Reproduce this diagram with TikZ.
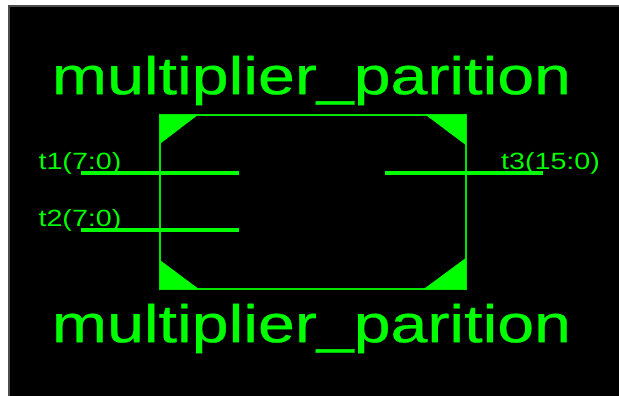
\documentclass[tikz,border=0pt]{standalone}
\usepackage{fontspec}
\setmainfont{Liberation Sans}
\newfontfamily\rtlfont[FakeBold=0.5]{Liberation Sans}
\usepackage{xcolor}
\usetikzlibrary{positioning}
\definecolor{rtlgreen}{RGB}{0,255,0}

\begin{document}
\begin{tikzpicture}[
        x=1pt, y=-1pt,
        rtlbox/.style={rectangle, draw=rtlgreen!90!black, line width=1.4pt, minimum width=306pt, minimum height=174pt, inner sep=0pt, outer sep=0pt},
        titlenode/.style={text=rtlgreen, font=\rtlfont\fontsize{53}{53}\selectfont, xscale=1.25, inner sep=0pt},
        pinlabel/.style={text=rtlgreen, font=\fontsize{23.5}{23.5}\selectfont, xscale=1.22, inner sep=0pt},
        pinline/.style={draw=rtlgreen, line width=3.4pt},
        cornermark/.style={fill=rtlgreen}
    ]
        \useasboundingbox (0,0) rectangle (619,396);
        \fill[white] (0,0) rectangle (619,396);
        \draw[fill=black, draw=black!70, line width=1.5pt] (9,6) rectangle (625,402);

        \node[rtlbox] (box) at (312.8,202) {};
        \node[titlenode] (top) at (311.5,80.5) {multiplier\_parition};
        \node[titlenode] (bottom) at (311.5,328.5) {multiplier\_parition};

        % corners
        \fill[cornermark] (box.north west) -- +(38,0) -- +(0,29) -- cycle;
        \fill[cornermark] (box.north east) -- +(-40,0) -- +(0,30) -- cycle;
        \fill[cornermark] (box.south west) -- +(39,0) -- +(0,-29) -- cycle;
        \fill[cornermark] (box.south east) -- +(-42,0) -- +(0,-31) -- cycle;

        % ports
        \coordinate (t1a) at (81,173);
        \coordinate (t1b) at (239,173);
        \coordinate (t2a) at (81,230);
        \coordinate (t2b) at (239,230);
        \coordinate (t3a) at (385,173);
        \coordinate (t3b) at (543,173);
        \draw[pinline] (t1a) -- (t1b);
        \draw[pinline] (t2a) -- (t2b);
        \draw[pinline] (t3a) -- (t3b);

        \node[pinlabel] (t1) at (80,163) {t1(7:0)};
        \node[pinlabel] (t2) at (80,220) {t2(7:0)};
        \node[pinlabel] (t3) at (550.5,163) {t3(15:0)};
    \end{tikzpicture}
\end{document}
